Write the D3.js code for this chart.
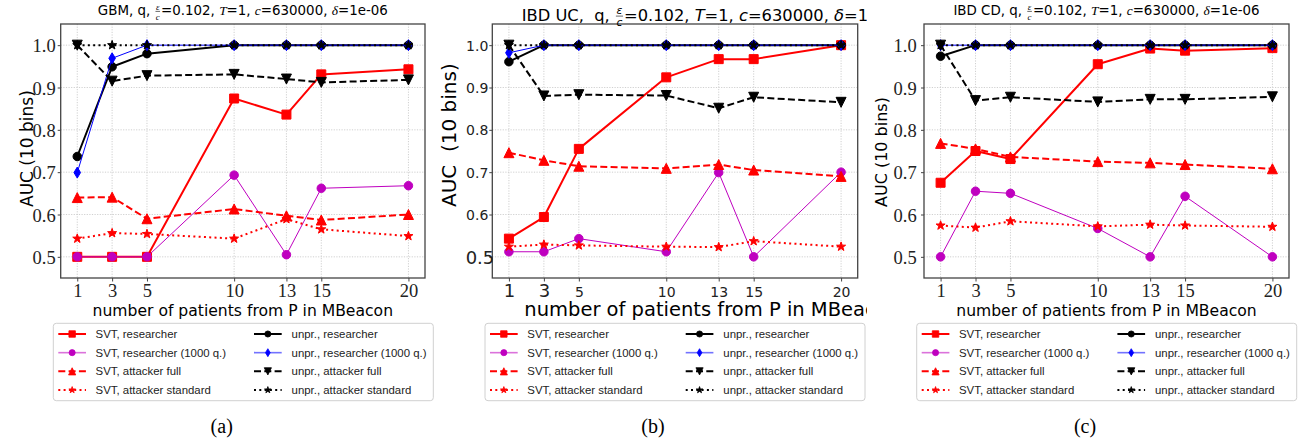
<!DOCTYPE html>
<html><head><meta charset="utf-8">
<script src="https://cdn.jsdelivr.net/npm/d3@7"></script>
<style>
body{margin:0;background:#fff;}
svg text{white-space:pre;}
</style></head>
<body><svg id="chart" width="1306" height="445"></svg>
<script>
// ---------- data ----------
const xValues = [1, 3, 5, 10, 13, 15, 20];
const xTickLabels = ["1", "3", "5", "10", "13", "15", "20"];
const yTickValues = [0.5, 0.6, 0.7, 0.8, 0.9, 1.0];
const yTickLabels = ["0.5", "0.6", "0.7", "0.8", "0.9", "1.0"];
const seriesLabels = ["SVT, researcher", "SVT, researcher (1000 q.)", "SVT, attacker full", "SVT, attacker standard",
  "unpr., researcher", "unpr., researcher (1000 q.)", "unpr., attacker full", "unpr., attacker standard"];
const captions = ["(a)", "(b)", "(c)"];

// (a) GBM
const gbmSvtResearcher      = [0.500, 0.500, 0.500, 0.874, 0.836, 0.931, 0.943];
const gbmSvtResearcher1000  = [0.500, 0.500, 0.500, 0.693, 0.505, 0.662, 0.668];
const gbmSvtAttackerFull    = [0.640, 0.641, 0.590, 0.613, 0.597, 0.587, 0.600];
const gbmSvtAttackerStd     = [0.543, 0.556, 0.554, 0.543, 0.589, 0.565, 0.549];
const gbmUnprResearcher     = [0.737, 0.949, 0.980, 1.000, 1.000, 1.000, 1.000];
const gbmUnprResearcher1000 = [0.699, 0.969, 1.000, 1.000, 1.000, 1.000, 1.000];
const gbmUnprAttackerFull   = [1.000, 0.915, 0.928, 0.931, 0.920, 0.912, 0.918];
const gbmUnprAttackerStd    = [1.000, 1.000, 1.000, 1.000, 1.000, 1.000, 1.000];

// (b) IBD UC
const ucSvtResearcher      = [0.543, 0.594, 0.755, 0.924, 0.967, 0.967, 1.000];
const ucSvtResearcher1000  = [0.512, 0.512, 0.543, 0.512, 0.699, 0.500, 0.700];
const ucSvtAttackerFull    = [0.746, 0.728, 0.714, 0.709, 0.718, 0.705, 0.690];
const ucSvtAttackerStd     = [0.524, 0.529, 0.527, 0.524, 0.523, 0.537, 0.524];
const ucUnprResearcher     = [0.961, 1.000, 1.000, 1.000, 1.000, 1.000, 1.000];
const ucUnprResearcher1000 = [0.982, 1.000, 1.000, 1.000, 1.000, 1.000, 1.000];
const ucUnprAttackerFull   = [1.000, 0.880, 0.883, 0.881, 0.851, 0.877, 0.865];
const ucUnprAttackerStd    = [1.000, 1.000, 1.000, 1.000, 1.000, 1.000, 1.000];

// (c) IBD CD
const cdSvtResearcher      = [0.675, 0.750, 0.731, 0.955, 0.992, 0.987, 0.993];
const cdSvtResearcher1000  = [0.500, 0.655, 0.650, 0.567, 0.500, 0.643, 0.500];
const cdSvtAttackerFull    = [0.768, 0.755, 0.736, 0.725, 0.722, 0.718, 0.708];
const cdSvtAttackerStd     = [0.574, 0.569, 0.584, 0.572, 0.576, 0.574, 0.571];
const cdUnprResearcher     = [0.974, 1.000, 1.000, 1.000, 1.000, 1.000, 1.000];
const cdUnprResearcher1000 = [1.000, 1.000, 1.000, 1.000, 1.000, 1.000, 1.000];
const cdUnprAttackerFull   = [1.000, 0.869, 0.877, 0.866, 0.872, 0.872, 0.878];
const cdUnprAttackerStd    = [1.000, 1.000, 1.000, 1.000, 1.000, 1.000, 1.000];

// ---------- styles ----------
const seriesStyle = [
  {color: "#ff0000", width: 2,   dash: null,    marker: "square",   size: 9},
  {color: "#bf00bf", width: 1,   dash: null,    marker: "circle",   size: 8.5, legendOpacity: 0.55},
  {color: "#ff0000", width: 2,   dash: "7,3.3", marker: "triUp",    size: 10},
  {color: "#ff0000", width: 2,   dash: "2,3.3", marker: "star",     size: 9.5},
  {color: "#000000", width: 2,   dash: null,    marker: "circle",   size: 8.5},
  {color: "#0000ff", width: 1,   dash: null,    marker: "diamond",  size: 11, legendOpacity: 0.55},
  {color: "#000000", width: 2,   dash: "7,3.3", marker: "triDown",  size: 10},
  {color: "#000000", width: 2,   dash: "2,3.3", marker: "star",     size: 9.5}
];

function markerPath(type, s) {
  const r = s / 2;
  switch (type) {
    case "square": return `M${-r},${-r}h${s}v${s}h${-s}Z`;
    case "circle": return d3.symbol(d3.symbolCircle, Math.PI * r * r)();
    case "triUp": return `M0,${-r}L${r},${r}L${-r},${r}Z`;
    case "triDown": return `M0,${r}L${r},${-r}L${-r},${-r}Z`;
    case "diamond": return `M0,${-r}L${0.6 * r},0L0,${r}L${-0.6 * r},0Z`;
    case "star": {
      const pts = [];
      for (let k = 0; k < 10; k++) {
        const rr = k % 2 === 0 ? r : r * 0.4;
        const a = -Math.PI / 2 + k * Math.PI / 5;
        pts.push([rr * Math.cos(a), rr * Math.sin(a)]);
      }
      return "M" + pts.map(p => p[0].toFixed(2) + "," + p[1].toFixed(2)).join("L") + "Z";
    }
  }
}

const svg = d3.select("#chart");
svg.append("rect").attr("width", 1306).attr("height", 445).attr("fill", "#fff");

const panels = [
  {series: [gbmSvtResearcher, gbmSvtResearcher1000, gbmSvtAttackerFull, gbmSvtAttackerStd, gbmUnprResearcher, gbmUnprResearcher1000, gbmUnprAttackerFull, gbmUnprAttackerStd],
   left: 60.7, right: 425, tickFont: "Liberation Serif", tickSize: 18.5, tickGap: 5,
   title: [{t: "GBM, q, "}, {frac: ["ε", "c"]}, {t: "=0.102, "}, {i: "T"}, {t: "=1, "}, {i: "c"}, {t: "=630000, "}, {i: "δ"}, {t: "=1e-06"}],
   titleAnchor: "middle", titleX: 242.8, titleY: 15, titleSize: 13.4, mathFamily: "Liberation Serif",
   yLabel: "AUC (10 bins)", yLabelX: 33, yLabelSize: 17,
   xLabelAnchor: "middle", xLabelX: 242.8, xLabelSize: 15.6,
   legendLeft: 53.3, captionX: 221.7},
  {series: [ucSvtResearcher, ucSvtResearcher1000, ucSvtAttackerFull, ucSvtAttackerStd, ucUnprResearcher, ucUnprResearcher1000, ucUnprAttackerFull, ucUnprAttackerStd],
   left: 492.3, right: 857.7, tickFont: "DejaVu Sans", tickSize: 14, tickGap: 4, bigX: [1, 3], bigY: [0.5], bigSize: 18,
   title: [{t: "IBD UC,  q, "}, {frac: ["ε", "c"]}, {t: "=0.102, "}, {i: "T"}, {t: "=1, "}, {i: "c"}, {t: "=630000, "}, {i: "δ"}, {t: "=1e-06"}],
   titleAnchor: "start", titleX: 521.7, titleY: 20.5, titleSize: 16.3, mathFamily: "DejaVu Sans",
   yLabel: "AUC  (10 bins)", yLabelX: 456, yLabelSize: 20,
   xLabelAnchor: "start", xLabelX: 524.3, xLabelSize: 19.5,
   legendLeft: 485, captionX: 653, clipRight: 867},
  {series: [cdSvtResearcher, cdSvtResearcher1000, cdSvtAttackerFull, cdSvtAttackerStd, cdUnprResearcher, cdUnprResearcher1000, cdUnprAttackerFull, cdUnprAttackerStd],
   left: 924, right: 1289, tickFont: "Liberation Serif", tickSize: 18.5, tickGap: 7.3,
   title: [{t: "IBD CD, q, "}, {frac: ["ε", "c"]}, {t: "=0.102, "}, {i: "T"}, {t: "=1, "}, {i: "c"}, {t: "=630000, "}, {i: "δ"}, {t: "=1e-06"}],
   titleAnchor: "middle", titleX: 1106.5, titleY: 15, titleSize: 13.4, mathFamily: "Liberation Serif",
   yLabel: "AUC (10 bins)", yLabelX: 887, yLabelSize: 16,
   xLabelAnchor: "middle", xLabelX: 1106.5, xLabelSize: 15.6,
   legendLeft: 916.7, captionX: 1085}
];

const TOP = 24, BOTTOM = 278;

function drawTitle(parent, pieces, o) {
  const t = parent.append("g");
  let cx = 0;
  pieces.forEach(p => {
    if (p.frac) {
      const fs = o.size * 0.66;
      const a = t.append("text").attr("font-family", o.math).attr("font-style", "italic")
        .attr("font-size", fs).attr("text-anchor", "middle").text(p.frac[0]);
      const b = t.append("text").attr("font-family", o.math).attr("font-style", "italic")
        .attr("font-size", fs).attr("text-anchor", "middle").text(p.frac[1]);
      const w = Math.max(a.node().getComputedTextLength(), b.node().getComputedTextLength()) + o.size * 0.2;
      a.attr("x", cx + w / 2).attr("y", -o.size * 0.4);
      b.attr("x", cx + w / 2).attr("y", o.size * 0.36);
      t.append("line").attr("x1", cx + 1).attr("x2", cx + w - 1)
        .attr("y1", -o.size * 0.27).attr("y2", -o.size * 0.27)
        .attr("stroke", "#000").attr("stroke-width", 0.6);
      cx += w;
    } else {
      const e = t.append("text").attr("x", cx).attr("y", 0).attr("font-size", o.size)
        .attr("font-family", p.i ? o.math : "DejaVu Sans")
        .attr("font-style", p.i ? "italic" : null).attr("fill", "#000").text(p.i || p.t);
      cx += e.node().getComputedTextLength();
    }
  });
  const x0 = o.anchor === "middle" ? o.x - cx / 2 : o.x;
  t.attr("transform", `translate(${x0},${o.y})`);
}

panels.forEach((cfg, pi) => {
  let g = svg.append("g");
  if (cfg.clipRight) {
    svg.append("defs").append("clipPath").attr("id", "clip" + pi)
      .append("rect").attr("x", 0).attr("y", 0).attr("width", cfg.clipRight).attr("height", 445);
    g.attr("clip-path", `url(#clip${pi})`);
  }
  const x = d3.scaleLinear().domain([0.05, 20.95]).range([cfg.left, cfg.right]);
  const y = d3.scaleLinear().domain([0.45, 1.05]).range([BOTTOM, TOP]);

  // grid
  const grid = g.append("g").attr("stroke", "#c4c4c4").attr("stroke-width", 0.8).attr("stroke-dasharray", "1.2,1.4");
  grid.selectAll(".gx").data(xValues).join("line")
    .attr("x1", d => x(d)).attr("x2", d => x(d)).attr("y1", TOP).attr("y2", BOTTOM);
  grid.selectAll(".gy").data(yTickValues).join("line")
    .attr("y1", d => y(d)).attr("y2", d => y(d)).attr("x1", cfg.left).attr("x2", cfg.right);

  // series
  cfg.series.forEach((vals, i) => {
    const st = seriesStyle[i];
    const line = d3.line().x((d, j) => x(xValues[j])).y(d => y(d));
    g.append("path").attr("d", line(vals)).attr("fill", "none")
      .attr("stroke", st.color).attr("stroke-width", st.width)
      .attr("stroke-dasharray", st.dash).attr("stroke-linejoin", "round");
    g.append("g").selectAll("path").data(vals).join("path")
      .attr("transform", (d, j) => `translate(${x(xValues[j])},${y(d)})`)
      .attr("d", markerPath(st.marker, st.size))
      .attr("fill", st.color).attr("stroke", st.color).attr("stroke-width", 1);
  });

  // frame
  g.append("rect").attr("x", cfg.left).attr("y", TOP).attr("width", cfg.right - cfg.left)
    .attr("height", BOTTOM - TOP).attr("fill", "none").attr("stroke", "#444").attr("stroke-width", 1.3);

  // x axis
  const xa = g.append("g").attr("transform", `translate(0,${BOTTOM})`)
    .call(d3.axisBottom(x).tickValues(xValues).tickSize(3.5).tickFormat((d, j) => xTickLabels[j]));
  xa.select(".domain").remove();
  xa.selectAll(".tick line").attr("stroke", "#444");
  xa.selectAll(".tick text").attr("dy", null).attr("y", 19.3)
    .attr("font-family", cfg.tickFont).attr("fill", "#222")
    .attr("font-size", d => (cfg.bigX && cfg.bigX.includes(d)) ? cfg.bigSize : cfg.tickSize);

  // y axis
  const ya = g.append("g").attr("transform", `translate(${cfg.left},0)`)
    .call(d3.axisLeft(y).tickValues(yTickValues).tickSize(3).tickFormat((d, j) => yTickLabels[j]));
  ya.select(".domain").remove();
  ya.selectAll(".tick line").attr("stroke", "#444");
  ya.selectAll(".tick text").attr("x", d => (cfg.bigY && cfg.bigY.includes(d)) ? 2 : -cfg.tickGap)
    .attr("dy", "0.36em").attr("font-family", cfg.tickFont).attr("fill", "#222")
    .attr("font-size", d => (cfg.bigY && cfg.bigY.includes(d)) ? cfg.bigSize : cfg.tickSize);

  // title
  drawTitle(g, cfg.title, {x: cfg.titleX, y: cfg.titleY, size: cfg.titleSize, math: cfg.mathFamily, anchor: cfg.titleAnchor});

  // y label
  g.append("text").attr("transform", `translate(${cfg.yLabelX},207) rotate(-90)`)
    .attr("text-anchor", "start").attr("font-family", "DejaVu Sans")
    .attr("font-size", cfg.yLabelSize).attr("fill", "#000").text(cfg.yLabel);

  // x label
  g.append("text").attr("x", cfg.xLabelX).attr("y", 316).attr("text-anchor", cfg.xLabelAnchor)
    .attr("font-family", "DejaVu Sans").attr("font-size", cfg.xLabelSize).attr("fill", "#000")
    .text("number of patients from P in MBeacon");

  // legend
  const lg = g.append("g").attr("transform", `translate(${cfg.legendLeft},0)`);
  lg.append("rect").attr("x", 0).attr("y", 323.3).attr("width", 380).attr("height", 77.4)
    .attr("rx", 3).attr("fill", "#fff").attr("stroke", "#d0d0d0").attr("stroke-width", 1);
  seriesLabels.forEach((lab, i) => {
    const st = seriesStyle[i];
    const col = Math.floor(i / 4), row = i % 4;
    const hx = col === 0 ? 5 : 200.7;
    const tx = col === 0 ? 42.3 : 238.3;
    const cy = 334 + row * 18.67;
    const h = lg.append("g").attr("opacity", st.legendOpacity || 1);
    h.append("line").attr("x1", hx).attr("x2", hx + 27.7).attr("y1", cy).attr("y2", cy)
      .attr("stroke", st.color).attr("stroke-width", st.width === 1 ? 1.6 : st.width)
      .attr("stroke-dasharray", st.dash);
    lg.append("path").attr("transform", `translate(${hx + 13.85},${cy})`)
      .attr("d", markerPath(st.marker, st.size * 0.72)).attr("fill", st.color)
      .attr("stroke", st.color).attr("stroke-width", 0.8);
    lg.append("text").attr("x", tx).attr("y", cy + 4).attr("font-family", "Liberation Sans")
      .attr("font-size", 11.4).attr("fill", "#222").text(lab);
  });

  // caption
  svg.append("text").attr("x", cfg.captionX).attr("y", 433).attr("text-anchor", "middle")
    .attr("font-family", "Liberation Serif").attr("font-size", 20).attr("fill", "#000").text(captions[pi]);
});
</script>
</body></html>
